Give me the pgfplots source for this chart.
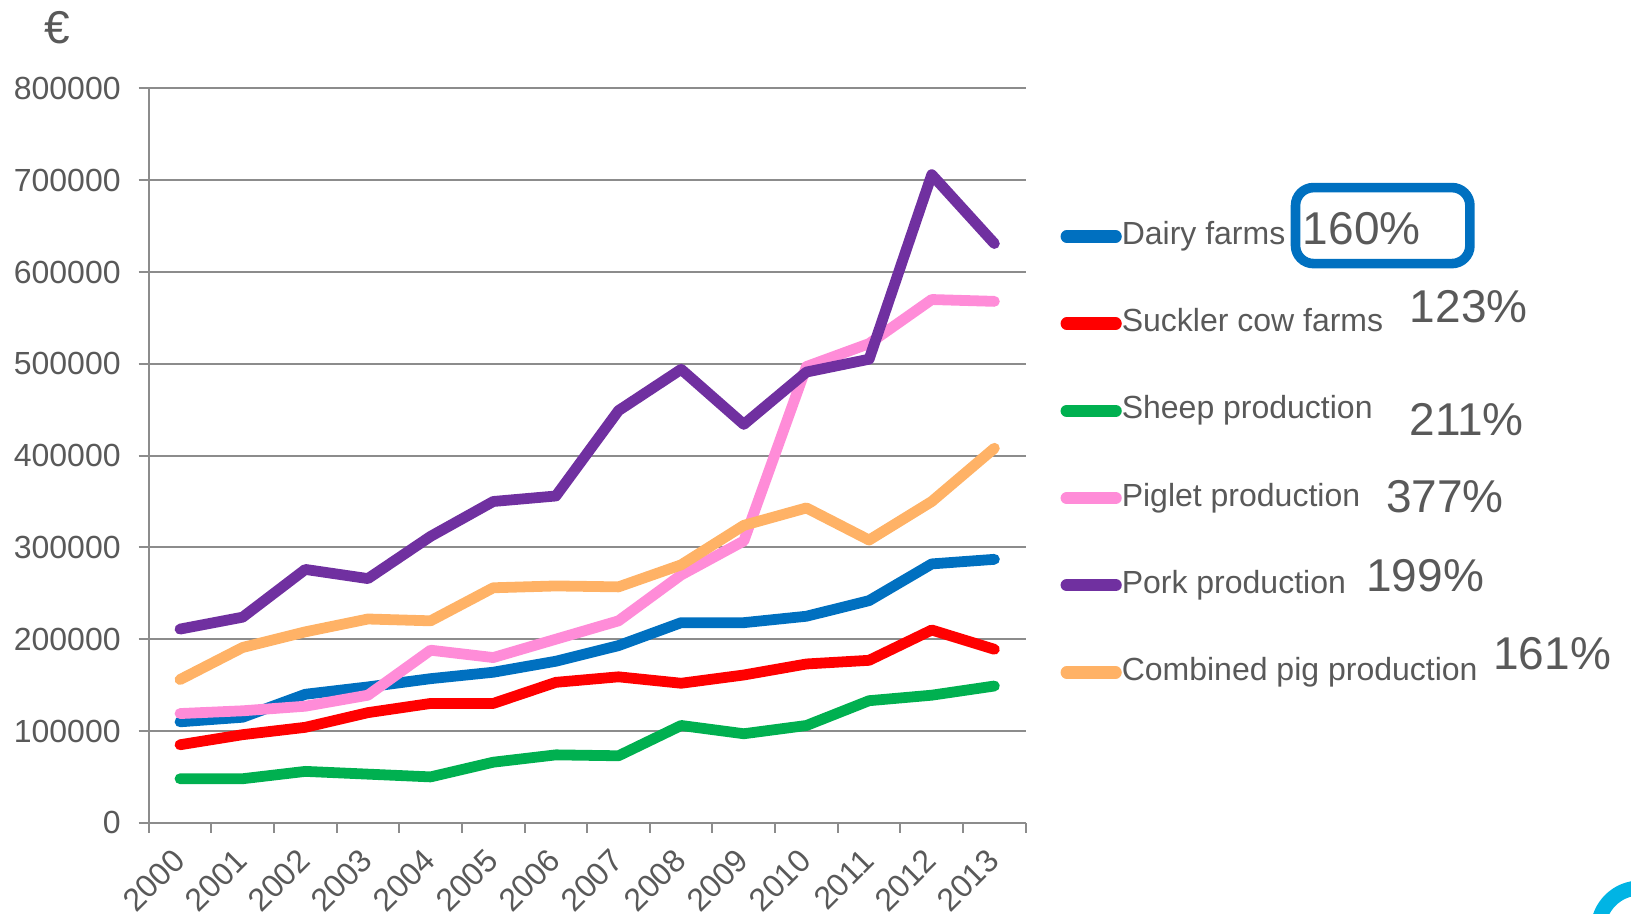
\documentclass[border=0pt]{standalone}
\usepackage{pgfplots}
\pgfplotsset{compat=1.18}
\usepackage{fontspec}
\setmainfont{Liberation Sans}
\definecolor{txt}{RGB}{89,89,89}
\definecolor{gridc}{RGB}{140,140,140}
\definecolor{cdairy}{RGB}{0,112,192}
\definecolor{csuck}{RGB}{255,0,0}
\definecolor{csheep}{RGB}{0,176,80}
\definecolor{cpiglet}{RGB}{255,140,216}
\definecolor{cpork}{RGB}{112,48,160}
\definecolor{ccomb}{RGB}{255,178,102}
\definecolor{ringc}{RGB}{0,180,228}
\begin{document}
\begin{tikzpicture}
\useasboundingbox (-74.35pt,-45.6pt) rectangle (741.15pt,411.4pt);
\begin{axis}[
  at={(0pt,0pt)}, anchor=south west,
  scale only axis, width=438.5pt, height=367.2pt,
  xmin=-0.5, xmax=13.5, ymin=0, ymax=800000,
  axis x line*=bottom, axis y line*=left,
  axis line style={gridc, line width=1pt, -},
  ymajorgrids, grid style={gridc, line width=1pt},
  ytick={0,100000,200000,300000,400000,500000,600000,700000,800000},
  yticklabels={0,100000,200000,300000,400000,500000,600000,700000,800000},
  scaled y ticks=false,
  xtick={0,...,13},
  xticklabels={2000,2001,2002,2003,2004,2005,2006,2007,2008,2009,2010,2011,2012,2013},
  minor xtick={-0.5,0.5,...,13.5},
  tick align=outside,
  major tick length=5pt, minor tick length=5pt,
  tick style={gridc, line width=1pt},
  major x tick style={draw=none},
  every tick label/.append style={font=\fontsize{16}{19}\selectfont, text=txt},
  yticklabel style={anchor=east, xshift=-5.5pt},
  xticklabel style={anchor=north east, inner sep=0pt, xshift=-4.6pt, yshift=-7pt, rotate=45},
  every axis plot/.append style={line width=5.4pt, line join=round, line cap=round, mark=none},
  legend cell align=left,
  legend image code/.code={\draw[#1, line width=6.2pt] (0pt,0pt) -- (24.4pt,0pt);},
  legend style={draw=none, fill=none, inner sep=0pt, at={(axis description cs:1.0393,0.8194)}, anchor=north west,
    row sep=28.6pt, column sep=0pt,
    nodes={inner sep=0pt, text height=11.5pt, text depth=3.5pt, text=txt, font=\fontsize{16}{19}\selectfont}},
]
\addplot[cdairy] coordinates {(0,110000)(1,115000)(2,140000)(3,148000)(4,157000)(5,164000)(6,176000)(7,193000)(8,218000)(9,218000)(10,225000)(11,242000)(12,282000)(13,287000)};
\addlegendentry{Dairy farms}
\addplot[csuck] coordinates {(0,85000)(1,96000)(2,104000)(3,120000)(4,130000)(5,130000)(6,153000)(7,159000)(8,152000)(9,161000)(10,173000)(11,177000)(12,210000)(13,189000)};
\addlegendentry{Suckler cow farms}
\addplot[csheep] coordinates {(0,48000)(1,48000)(2,56000)(3,53000)(4,50000)(5,66000)(6,74000)(7,73000)(8,106000)(9,97000)(10,106000)(11,133000)(12,139000)(13,149000)};
\addlegendentry{Sheep production}
\addplot[cpiglet] coordinates {(0,119000)(1,122000)(2,127000)(3,139000)(4,188000)(5,180000)(6,200000)(7,220000)(8,270000)(9,307000)(10,497000)(11,522000)(12,570000)(13,568000)};
\addlegendentry{Piglet production}
\addplot[cpork] coordinates {(0,211000)(1,224000)(2,276000)(3,266000)(4,312000)(5,350000)(6,356000)(7,449000)(8,494000)(9,434000)(10,491000)(11,505000)(12,706000)(13,631000)};
\addlegendentry{Pork production}
\addplot[ccomb] coordinates {(0,156000)(1,191000)(2,208000)(3,222000)(4,220000)(5,256000)(6,258000)(7,257000)(8,281000)(9,324000)(10,343000)(11,308000)(12,350000)(13,408000)};
\addlegendentry{Combined pig production}
\end{axis}
\node[text=txt, font=\fontsize{23}{27}\selectfont, inner sep=0pt] at (-45.85pt,397.4pt) {€};
\draw[cdairy, line width=4.8pt, rounded corners=9pt] (573.4pt,279.6pt) rectangle (660.6pt,317.6pt);
\begin{scope}[every node/.style={text=txt, font=\fontsize{23}{27}\selectfont, inner sep=0pt, text depth=0pt}]
\node at (606.5pt,297.0pt) {160\%};
\node at (660.0pt,258.0pt) {123\%};
\node at (659.0pt,201.8pt) {211\%};
\node at (648.1pt,163.3pt) {377\%};
\node at (638.2pt,123.8pt) {199\%};
\node at (701.7pt,84.8pt) {161\%};
\end{scope}
\draw[ringc, line width=7.5pt] (745.65pt,-53.6pt) circle (21pt);
\end{tikzpicture}
\end{document}
